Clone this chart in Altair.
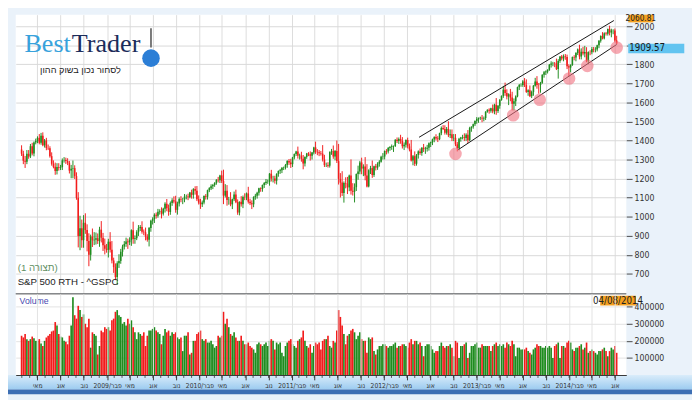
import json
import altair as alt
import pandas as pd

# ---------------- data (weekly S&P 500) ----------------
first_open = 1353

close_2008 = [1331, 1294, 1288, 1330, 1316, 1370, 1332, 1390, 1398, 1414, 1388, 1425, 1375, 1400, 1361, 1360,
              1318, 1278, 1262, 1240, 1261, 1257, 1260, 1296, 1298, 1292, 1283, 1242, 1252, 1255, 1213, 1099,
              899, 940, 877, 968, 930, 873, 800, 896, 876, 879, 887, 872]
close_2009 = [932, 890, 850, 832, 826, 869, 827, 770, 735, 683, 756, 768, 816, 843, 857, 870, 866, 877, 929, 883,
              887, 919, 940, 946, 921, 918, 896, 879, 941, 979, 987, 1010, 1005, 1026, 1029, 1016, 1042, 1068,
              1044, 1025, 1072, 1087, 1080, 1036, 1069, 1093, 1091, 1091, 1106, 1106, 1102, 1127]
close_2010 = [1115, 1145, 1136, 1092, 1074, 1066, 1075, 1109, 1105, 1139, 1150, 1160, 1167, 1178, 1194, 1192,
              1217, 1187, 1111, 1136, 1088, 1089, 1065, 1092, 1117, 1076, 1022, 1078, 1065, 1103, 1102, 1122,
              1079, 1071, 1065, 1104, 1110, 1126, 1149, 1146, 1166, 1177, 1183, 1183, 1226, 1200, 1200, 1189,
              1225, 1240, 1244, 1257, 1258]
close_2011 = [1272, 1293, 1284, 1276, 1311, 1329, 1343, 1320, 1321, 1304, 1279, 1314, 1332, 1328, 1320, 1337,
              1364, 1340, 1338, 1333, 1331, 1300, 1271, 1271, 1268, 1340, 1344, 1316, 1345, 1292, 1199, 1179,
              1124, 1177, 1174, 1154, 1216, 1136, 1131, 1155, 1224, 1238, 1285, 1253, 1263, 1216, 1159, 1244,
              1255, 1219, 1265, 1258]
close_2012 = [1278, 1289, 1315, 1316, 1345, 1342, 1361, 1366, 1370, 1371, 1404, 1397, 1408, 1398, 1370, 1378,
              1403, 1369, 1353, 1295, 1318, 1278, 1325, 1343, 1335, 1362, 1355, 1357, 1362, 1386, 1391, 1406,
              1418, 1411, 1407, 1438, 1466, 1460, 1441, 1461, 1428, 1433, 1412, 1414, 1380, 1359, 1409, 1416,
              1418, 1413, 1430, 1402]
close_2013 = [1466, 1472, 1486, 1503, 1513, 1518, 1520, 1516, 1518, 1551, 1561, 1556, 1569, 1553, 1588, 1555,
              1582, 1614, 1634, 1667, 1650, 1631, 1643, 1626, 1593, 1606, 1632, 1680, 1692, 1692, 1710, 1691,
              1655, 1664, 1633, 1655, 1688, 1710, 1692, 1691, 1703, 1745, 1759, 1762, 1771, 1798, 1805, 1806,
              1805, 1775, 1818, 1841]
close_2014 = [1831, 1842, 1839, 1790, 1783, 1797, 1838, 1836, 1859, 1878, 1841, 1866, 1857, 1865, 1816, 1864,
              1863, 1881, 1878, 1878, 1900, 1924, 1949, 1936, 1963, 1961, 1985, 1967, 1978, 1978, 1925, 1909.57]

up_2008 = [22, 15, 25, 20, 20, 12, 18, 5, 12, 8, 20, 15, 18, 8, 14, 18, 10, 20, 18, 22, 20, 20, 12, 10, 15, 12,
           15, 10, 20, 40, 15, 20, 30, 65, 45, 40, 50, 30, 40, 10, 42, 40, 30, 25]
dn_2008 = [12, 18, 32, 12, 12, 8, 10, 15, 10, 12, 8, 10, 5, 12, 12, 10, 8, 10, 8, 20, 18, 15, 12, 15, 12, 15,
           12, 15, 40, 50, 15, 10, 60, 75, 40, 40, 20, 55, 60, 30, 35, 25, 25, 15]
up_2009 = [15, 45, 25, 35, 25, 15, 50, 45, 15, 20, 10, 35, 15, 10, 15, 20, 15, 15, 5, 45, 15, 10, 16, 10, 30,
           12, 25, 12, 5, 5, 10, 8, 12, 15, 10, 20, 5, 8, 25, 20, 8, 10, 20, 30, 10, 8, 15, 8, 13, 10, 15, 3]
dn_2009 = [30, 25, 30, 30, 15, 40, 15, 15, 30, 16, 40, 25, 15, 25, 15, 15, 35, 15, 30, 25, 25, 10, 20, 15, 10,
           15, 20, 10, 35, 20, 20, 20, 15, 10, 15, 25, 10, 20, 15, 20, 15, 15, 10, 15, 25, 15, 15, 25, 15, 15, 15, 5]
up_2010 = [15, 5, 15, 25, 20, 20, 10, 3, 10, 3, 5, 10, 5, 3, 3, 15, 3, 25, 60, 35, 30, 15, 40, 3, 15, 25, 15,
           3, 30, 8, 20, 5, 35, 15, 15, 3, 10, 5, 3, 5, 3, 5, 15, 12, 3, 20, 15, 15, 3, 3, 7, 3, 5]
dn_2010 = [20, 20, 20, 10, 10, 25, 15, 10, 15, 15, 10, 10, 15, 10, 10, 12, 15, 10, 45, 10, 30, 25, 10, 25, 10,
           5, 12, 15, 12, 20, 15, 15, 10, 10, 25, 15, 15, 15, 15, 15, 15, 15, 10, 10, 20, 15, 20, 15, 20, 15, 15, 15, 12]
up_2011 = [5, 3, 10, 20, 3, 3, 3, 25, 10, 20, 20, 3, 3, 7, 15, 3, 3, 30, 15, 12, 12, 45, 25, 13, 15, 3, 12, 30,
           5, 55, 90, 30, 60, 8, 30, 35, 5, 85, 40, 20, 3, 30, 8, 25, 12, 50, 60, 5, 12, 40, 3, 12]
dn_2011 = [10, 15, 12, 20, 15, 10, 10, 15, 20, 15, 30, 15, 10, 10, 25, 20, 10, 10, 15, 15, 10, 10, 10, 10, 10,
           10, 15, 12, 20, 10, 30, 78, 15, 50, 25, 35, 20, 20, 20, 56, 20, 30, 15, 30, 40, 25, 5, 5, 20, 15, 10, 15]
up_2012 = [8, 8, 5, 18, 3, 10, 5, 5, 9, 3, 3, 12, 8, 22, 20, 12, 3, 12, 15, 50, 6, 25, 4, 5, 15, 3, 20, 10, 15,
           4, 3, 4, 4, 15, 12, 3, 8, 15, 20, 10, 40, 25, 25, 20, 20, 12, 5, 3, 12, 20, 8, 25]
dn_2012 = [12, 15, 5, 15, 15, 15, 10, 15, 15, 30, 5, 10, 15, 15, 12, 20, 15, 10, 10, 5, 25, 12, 10, 20, 10, 15,
           15, 25, 15, 15, 20, 15, 15, 10, 15, 5, 10, 5, 10, 10, 10, 15, 15, 15, 10, 16, 10, 15, 10, 15, 15, 15]
up_2013 = [6, 3, 3, 3, 10, 3, 5, 14, 8, 3, 3, 8, 3, 20, 5, 35, 5, 3, 3, 20, 37, 19, 5, 28, 30, 15, 5, 3, 5, 8,
           7, 18, 30, 5, 25, 7, 3, 19, 28, 10, 5, 3, 6, 6, 3, 4, 11, 7, 6, 25, 9, 2]
dn_2013 = [5, 20, 10, 10, 15, 20, 10, 20, 15, 10, 5, 15, 10, 10, 15, 20, 10, 15, 5, 10, 15, 15, 45, 20, 35, 35,
           25, 5, 15, 10, 10, 10, 5, 20, 5, 10, 20, 5, 20, 45, 40, 5, 15, 15, 10, 5, 15, 15, 20, 5, 50, 10]
up_2014 = [8, 10, 12, 12, 10, 3, 3, 10, 5, 5, 25, 18, 26, 32, 25, 4, 10, 10, 10, 12, 3, 3, 3, 20, 5, 7, 3, 18,
           9, 6, 10, 25]
dn_2014 = [10, 15, 15, 15, 45, 25, 5, 15, 20, 10, 15, 15, 10, 20, 5, 15, 15, 10, 15, 15, 10, 15, 10, 5, 5, 10,
           10, 15, 25, 20, 10, 5]

vol_2008 = [230, 220, 240, 210, 200, 210, 225, 215, 200, 200, 210, 185, 170, 200, 220, 230, 240, 255, 260, 310,
            290, 240, 225, 220, 200, 195, 180, 230, 290, 455, 350, 330, 405, 380, 340, 355, 300, 280, 330, 160,
            250, 240, 230, 120]
vol_2009 = [170, 260, 250, 280, 270, 280, 260, 320, 330, 370, 380, 350, 340, 300, 310, 290, 330, 300, 320, 280,
            250, 210, 250, 240, 230, 250, 170, 230, 260, 260, 270, 280, 260, 250, 240, 180, 230, 270, 250, 260,
            230, 250, 240, 250, 220, 210, 220, 140, 230, 230, 250, 120]
vol_2010 = [130, 200, 200, 240, 250, 260, 210, 200, 210, 190, 190, 200, 180, 160, 170, 230, 220, 230, 370, 300,
            330, 280, 240, 230, 250, 220, 200, 200, 230, 200, 180, 180, 190, 170, 160, 150, 130, 180, 190, 180,
            170, 180, 190, 170, 200, 210, 200, 150, 190, 180, 190, 130, 110]
vol_2011 = [170, 190, 200, 210, 180, 170, 160, 200, 210, 220, 260, 200, 170, 160, 180, 130, 170, 190, 180, 190,
            150, 200, 210, 210, 230, 170, 160, 200, 190, 260, 380, 340, 290, 240, 180, 230, 240, 260, 270, 250,
            210, 230, 250, 210, 200, 200, 130, 220, 210, 220, 140, 120]
vol_2012 = [150, 170, 170, 180, 180, 170, 160, 170, 170, 180, 190, 160, 170, 170, 180, 180, 170, 160, 190, 210,
            180, 200, 200, 180, 190, 170, 110, 170, 180, 180, 170, 150, 130, 140, 140, 170, 190, 170, 160, 170,
            170, 180, 160, 110, 200, 190, 100, 170, 170, 180, 190, 100]
vol_2013 = [130, 170, 170, 180, 190, 160, 160, 180, 170, 170, 170, 170, 140, 170, 180, 190, 170, 180, 170, 180,
            160, 190, 180, 170, 200, 180, 110, 160, 160, 150, 150, 150, 160, 140, 130, 120, 150, 160, 180, 170,
            170, 160, 160, 170, 160, 170, 160, 100, 170, 180, 190, 100]
vol_2014 = [170, 170, 160, 190, 200, 190, 150, 140, 160, 160, 170, 180, 150, 160, 190, 130, 140, 150, 140, 130,
            120, 140, 140, 150, 160, 140, 110, 140, 160, 150, 170, 130]

# trend channel and marked touches
channel_names = ["upper", "upper", "lower", "lower"]
channel_dates = ["2012-06-18", "2014-07-28", "2012-11-19", "2014-08-08"]
channel_prices = [1417, 2030, 1351, 1904]
touch_dates = ["2012-11-09", "2013-06-25", "2013-10-08", "2014-02-01", "2014-04-14", "2014-08-08"]
touch_prices = [1330, 1533, 1614, 1726, 1792, 1888]

# axis labels
month_names = ["ינו", "פבר", "מרץ", "אפר", "מאי", "יונ", "יול", "אוג", "ספט", "אוק", "נוב", "דצמ"]
label_months = [2, 5, 8, 11]
price_ticks = [700, 800, 900, 1000, 1100, 1200, 1300, 1400, 1500, 1600, 1700, 1800, 1900, 2000]
hidden_price_label = 1900   # covered by the last-price box
volume_ticks = [0, 100000, 200000, 300000, 400000]
last_price_text = "1909.57"
scale_top_text = "2060.81"
last_date_text = "04/08/2014"

# ---------------- build table ----------------
closes = close_2008 + close_2009 + close_2010 + close_2011 + close_2012 + close_2013 + close_2014
ups = up_2008 + up_2009 + up_2010 + up_2011 + up_2012 + up_2013 + up_2014
dns = dn_2008 + dn_2009 + dn_2010 + dn_2011 + dn_2012 + dn_2013 + dn_2014
vols = vol_2008 + vol_2009 + vol_2010 + vol_2011 + vol_2012 + vol_2013 + vol_2014
opens = [first_open] + closes[:-1]
dates = pd.date_range("2008-02-29", periods=len(closes), freq="7D")
df = pd.DataFrame({
    "date": dates,
    "open": opens,
    "close": closes,
    "high": [max(o, c) + u for o, c, u in zip(opens, closes, ups)],
    "low": [min(o, c) - d for o, c, d in zip(opens, closes, dns)],
    "volume": [v * 1000 for v in vols],
})
df["dir"] = ["up" if c >= o else "down" for o, c in zip(opens, closes)]

chan_df = pd.DataFrame({"line": channel_names, "date": pd.to_datetime(channel_dates), "price": channel_prices})
touch_df = pd.DataFrame({"date": pd.to_datetime(touch_dates), "price": touch_prices})

GREEN = "#1f8c1f"
RED = "#f21c1c"
AXIS_FONT = "Liberation Sans Narrow, Arial Narrow, DejaVu Sans Condensed, Liberation Sans, sans-serif"

W, HP, HV = 632, 288, 84

x_scale = alt.Scale(domain=[alt.DateTime(year=2008, month=2, date=25), alt.DateTime(year=2014, month=8, date=27)])
tick_vals = [alt.DateTime(year=y, month=m, date=1) for y in range(2008, 2015) for m in label_months
             if (y, m) > (2008, 2) and (y, m) <= (2014, 8)]
names_js = json.dumps(month_names, ensure_ascii=False)
label_expr = (f"month(datum.value) == 1 ? year(datum.value) + '/' + {names_js}[1] "
              f": {names_js}[month(datum.value)]")

color = alt.Color("dir:N", scale=alt.Scale(domain=["up", "down"], range=[GREEN, RED]), legend=None)

price_x_axis = alt.Axis(values=tick_vals, grid=True, gridColor="#dcdcdc", labels=False, ticks=False,
                        domain=False, title=None)
price_scale = alt.Scale(domain=[600, 2060.81], nice=False, zero=False)
price_axis = alt.Axis(orient="right", values=price_ticks, format="d", grid=True, gridColor="#d8d8d8",
                      labelExpr=f"datum.value == {hidden_price_label} ? '' : datum.label",
                      tickSize=6, tickColor="#444", labelFontSize=9, labelFont=AXIS_FONT, labelColor="#333",
                      labelPadding=2, labelOverlap=False, labelFlush=False, domain=False, title=None)


def px(field="date"):
    return alt.X(f"{field}:T", scale=x_scale, axis=price_x_axis)


def py(field):
    return alt.Y(f"{field}:Q", scale=price_scale, axis=price_axis)


base = alt.Chart(df)
wicks = base.mark_rule(strokeWidth=1).encode(x=px(), y=py("low"), y2="high:Q", color=color)
bodies = base.mark_bar(size=1.6).encode(x=px(), y=py("open"), y2="close:Q", color=color)
channel = alt.Chart(chan_df).mark_line(color="#111111", strokeWidth=1).encode(
    x=px(), y=py("price"), detail="line:N")
touches = alt.Chart(touch_df).mark_circle(size=170, color="#f0707e", opacity=0.6).encode(x=px(), y=py("price"))

one = pd.DataFrame({"k": [0]})


def label(text, x, y, **kw):
    return alt.Chart(one).mark_text(text=text, **kw).encode(x=alt.value(x), y=alt.value(y))


def box(x1, x2, y1, y2, fill):
    return alt.Chart(one).mark_rect(color=fill).encode(
        x=alt.value(x1), x2=alt.value(x2), y=alt.value(y1), y2=alt.value(y2))


logo = [
    label("Best", 9, 45, font="Liberation Serif", fontSize=27, color="#37a2dc", align="left", baseline="bottom"),
    label("Trader", 58, 45, font="Liberation Serif", fontSize=27, color="#1c2c5a", align="left",
          baseline="bottom"),
    label("לסחור נכון בשוק ההון", 67, 52, font="Liberation Sans", fontSize=9.5, color="#222222",
          align="center", baseline="top"),
    alt.Chart(one).mark_rule(color="#777777", strokeWidth=2).encode(
        x=alt.value(140), y=alt.value(14), y2=alt.value(34)),
    alt.Chart(one).mark_circle(size=330, color="#2b7ed6", opacity=1).encode(x=alt.value(140), y=alt.value(45)),
]
texts = [
    label("(תצורה 1)", 2, 262, font="Liberation Sans", fontSize=10, color="#5f8f5f", align="left",
          baseline="middle"),
    label("S&P 500 RTH - ^GSPC", 2, 277, font="Liberation Sans", fontSize=10, color="#222222", align="left",
          baseline="middle"),
    box(634, 660, 0, 8, "#f5a01e"),
    label(scale_top_text, 647, 4, font=AXIS_FONT, fontSize=8.5, color="#222222", align="center",
          baseline="middle"),
    box(634, 692, 30, 40, "#62c4f0"),
    label(last_price_text, 635, 35, font=AXIS_FONT, fontSize=10, color="#1a1a1a", align="left",
          baseline="middle"),
]

price = alt.layer(wicks, bodies, channel, touches, *logo, *texts).properties(width=W, height=HP)

# ---------------- volume panel ----------------
vol_x_axis = alt.Axis(values=tick_vals, labelExpr=label_expr, grid=True, gridColor="#e2e2e2",
                      tickSize=5, tickColor="#333", domain=True, domainColor="#333",
                      labelFontSize=7, labelFont=AXIS_FONT, labelColor="#333", labelPadding=2,
                      labelOverlap=False, labelFlush=False, title=None, zindex=1)
vol_scale = alt.Scale(domain=[0, 475000], nice=False)
vol_axis = alt.Axis(orient="right", values=volume_ticks, format="d",
                    labelExpr="datum.value == 0 ? '' : datum.label", grid=True, gridColor="#e2e2e2",
                    tickSize=6, tickColor="#444", labelFontSize=9, labelFont=AXIS_FONT, labelColor="#333",
                    labelPadding=2, labelOverlap=False, labelFlush=False, domain=False, title=None)

vbars = base.mark_bar(size=1.7).encode(
    x=alt.X("date:T", scale=x_scale, axis=vol_x_axis),
    y=alt.Y("volume:Q", scale=vol_scale, axis=vol_axis), color=color)

band = alt.Chart(one).mark_rect(
    color=alt.LinearGradient(gradient="linear", x1=0, y1=0, x2=0, y2=1,
                             stops=[alt.GradientStop(offset=0, color="#d9ecfa"),
                                    alt.GradientStop(offset=1, color="#9ccbf0")])
).encode(x=alt.value(-8), x2=alt.value(700), y=alt.value(HV), y2=alt.value(HV + 15))
frame = box(-8, 700, HV + 15, HV + 20, "#3d6fb4")

months_df = pd.DataFrame({"date": pd.date_range("2008-03-01", "2014-08-01", freq="MS")})
minor = alt.Chart(months_df).mark_rule(color="#555555", strokeWidth=1).encode(
    x=alt.X("date:T", scale=x_scale, axis=vol_x_axis), y=alt.value(HV), y2=alt.value(HV + 3))

divider = alt.Chart(one).mark_rule(color="#444444", strokeWidth=1).encode(
    x=alt.value(0), x2=alt.value(W), y=alt.value(0))
vol_texts = [
    label("Volume", 4, 8, font="Liberation Sans", fontSize=9, color="#4848b0", align="left", baseline="middle"),
    box(605, 642, 2, 12, "#f5a01e"),
    label(last_date_text, 623.5, 7, font=AXIS_FONT, fontSize=10, color="#222222", align="center",
          baseline="middle"),
]

volume = alt.layer(vbars, band, frame, minor, divider, *vol_texts).properties(width=W, height=HV)

chart = alt.vconcat(price, volume, spacing=0).properties(
    padding={"left": 0, "top": 0, "right": 0, "bottom": 0}, background="#eaf2fa"
).configure_view(fill="white", stroke=None).configure_axis(labelOverlap=False)

chart.save("out.html", embed_options={"renderer": "svg", "actions": False})
